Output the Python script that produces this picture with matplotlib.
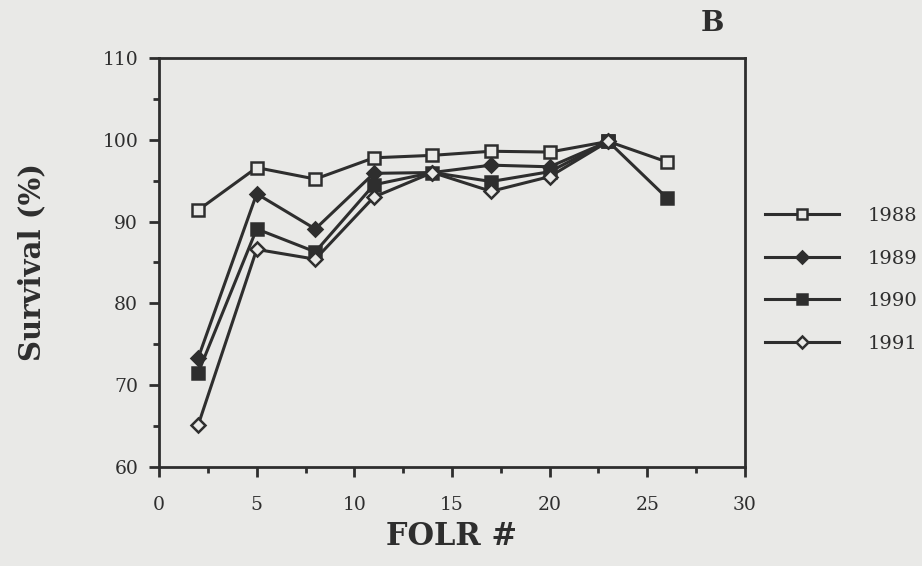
import matplotlib.pyplot as plt
from matplotlib.ticker import MultipleLocator

# FOLR numbers and survival (%)
folr = [2, 5, 8, 11, 14, 17, 20, 23, 26]
surv_1988 = [91.4, 96.6, 95.2, 97.8, 98.1, 98.6, 98.5, 99.8, 97.3]
surv_1989 = [73.3, 93.4, 89.1, 95.9, 96.0, 96.9, 96.7, 99.8]
surv_1990 = [71.5, 89.1, 86.3, 94.5, 96.0, 94.9, 96.1, 99.8, 92.9]
surv_1991 = [65.1, 86.6, 85.4, 93.0, 96.0, 93.7, 95.5, 99.8]

years = ["1988", "1989", "1990", "1991"]
BG = "#e9e9e7"
INK = "#2e2e2e"

plt.rcParams["font.family"] = ["DejaVu Serif"]


def main():
    fig = plt.figure(figsize=(9.22, 5.66), dpi=100, facecolor=BG)
    ax = fig.add_axes([0.1725, 0.175, 0.6355, 0.7225], facecolor=BG)

    style = dict(color=INK, lw=2.2, markersize=8, markeredgewidth=1.8,
                 markeredgecolor=INK)
    ax.plot(folr, surv_1988, marker="s", markerfacecolor=BG, label=years[0], **style)
    ax.plot(folr[:len(surv_1989)], surv_1989, marker="D", markerfacecolor=INK,
            label=years[1], **{**style, "markersize": 7})
    ax.plot(folr, surv_1990, marker="s", markerfacecolor=INK, label=years[2], **style)
    ax.plot(folr[:len(surv_1991)], surv_1991, marker="D", markerfacecolor=BG,
            label=years[3], **{**style, "markersize": 7})

    ax.set_xlim(0, 30)
    ax.set_ylim(60, 110)
    ax.xaxis.set_major_locator(MultipleLocator(5))
    ax.xaxis.set_minor_locator(MultipleLocator(2.5))
    ax.yaxis.set_major_locator(MultipleLocator(10))
    ax.yaxis.set_minor_locator(MultipleLocator(5))
    ax.tick_params(which="major", direction="out", length=7, width=2,
                   color=INK, labelsize=13.5, labelcolor=INK)
    ax.tick_params(which="minor", direction="out", length=4, width=2, color=INK)
    ax.tick_params(axis="x", pad=14)
    ax.tick_params(axis="y", pad=8)
    for sp in ax.spines.values():
        sp.set_linewidth(2)
        sp.set_color(INK)

    ax.set_xlabel("FOLR #", fontsize=22, fontweight="bold", color=INK, labelpad=5)
    ax.set_ylabel("Survival (%)", fontsize=21, fontweight="bold", color=INK, labelpad=40)
    fig.text(0.773, 0.959, "B", fontsize=20, fontweight="bold", color=INK,
             ha="center", va="center")

    ax.legend(loc="upper left", bbox_to_anchor=(1.034, 0.635), frameon=False,
              fontsize=14, handlelength=3.8, labelspacing=1.26,
              handletextpad=1.5, borderpad=0, borderaxespad=0,
              markerscale=0.85, labelcolor=INK)

    fig.savefig("out.png", dpi=100, facecolor=BG)
    plt.close(fig)


if __name__ == "__main__":
    main()
